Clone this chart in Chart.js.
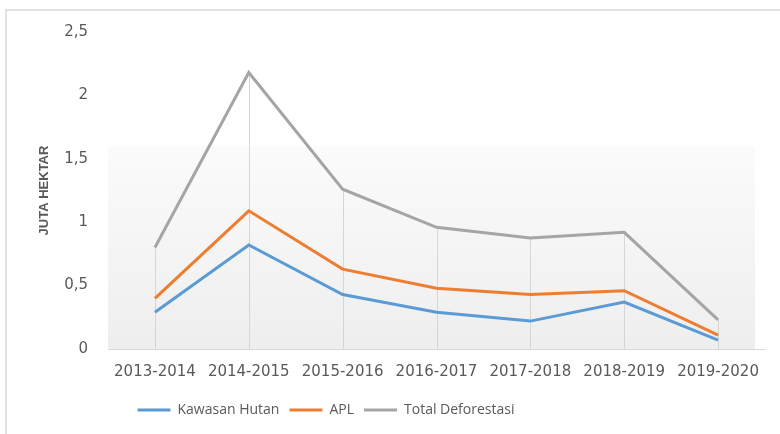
<!DOCTYPE html>
<html>
<head>
<meta charset="utf-8">
<script src="https://cdn.jsdelivr.net/npm/chart.js@4/dist/chart.umd.min.js"></script>
<style>
  html, body { margin: 0; padding: 0; background: #ffffff; }
  #wrap { position: relative; width: 780px; height: 434px; overflow: hidden; }
  #frame { position: absolute; left: 5px; top: 9px; width: 800px; height: 460px;
           border-left: 2px solid #e2e2e2; border-top: 2px solid #e2e2e2; box-sizing: border-box; }
  canvas { position: absolute; left: 0; top: 0; }
</style>
</head>
<body>
<div id="wrap">
  <div id="frame"></div>
  <canvas id="c" width="780" height="434"></canvas>
</div>
<script>
const categories = ["2013-2014", "2014-2015", "2015-2016", "2016-2017", "2017-2018", "2018-2019", "2019-2020"];
const kawasanHutan = [0.29, 0.82, 0.43, 0.29, 0.22, 0.37, 0.07];
const apl = [0.40, 1.09, 0.63, 0.48, 0.43, 0.46, 0.11];
const totalDeforestasi = [0.80, 2.18, 1.26, 0.96, 0.875, 0.92, 0.23];
const seriesNames = ["Kawasan Hutan", "APL", "Total Deforestasi"];
const yAxisTitle = "JUTA HEKTAR";

const textColor = "#595959";

const plotDecor = {
  id: "plotDecor",
  beforeDatasetsDraw(chart) {
    const { ctx, chartArea, scales } = chart;
    const top = scales.y.getPixelForValue(1.6);
    const bottom = chartArea.bottom;
    ctx.save();
    const g = ctx.createLinearGradient(0, top, 0, bottom);
    g.addColorStop(0, "#fbfbfb");
    g.addColorStop(1, "#eeeeee");
    ctx.fillStyle = g;
    ctx.fillRect(chartArea.left, top, chartArea.right - chartArea.left - 10, bottom - top);
    // drop lines from the highest series down to the axis
    const meta = chart.getDatasetMeta(2);
    ctx.strokeStyle = "#d6d6d6";
    ctx.lineWidth = 1;
    meta.data.forEach(pt => {
      ctx.beginPath();
      ctx.moveTo(Math.round(pt.x) + 0.5, pt.y);
      ctx.lineTo(Math.round(pt.x) + 0.5, bottom);
      ctx.stroke();
    });
    ctx.restore();
  },
  afterLayout(chart) {
    const L = chart.legend;
    if (!L) return;
    const w = L.right - L.left;
    const c = 326;
    L.left = c - w / 2;
    L.right = c + w / 2;
  }
};

new Chart(document.getElementById("c"), {
  type: "line",
  data: {
    labels: categories,
    datasets: [
      { label: seriesNames[0], data: kawasanHutan, borderColor: "#5b9bd5", backgroundColor: "#5b9bd5", borderWidth: 3, pointRadius: 0, tension: 0 },
      { label: seriesNames[1], data: apl, borderColor: "#ed7d31", backgroundColor: "#ed7d31", borderWidth: 3, pointRadius: 0, tension: 0 },
      { label: seriesNames[2], data: totalDeforestasi, borderColor: "#a5a5a5", backgroundColor: "#a5a5a5", borderWidth: 3, pointRadius: 0, tension: 0 }
    ]
  },
  options: {
    responsive: false,
    animation: false,
    maintainAspectRatio: false,
    layout: { padding: { left: 37, top: 32, right: 15, bottom: 7 } },
    plugins: {
      legend: {
        position: "bottom",
        labels: {
          font: { family: "'Open Sans'", size: 14 },
          color: textColor,
          usePointStyle: true,
          pointStyle: "line",
          pointStyleWidth: 33,
          padding: 10
        }
      },
      tooltip: { enabled: false }
    },
    scales: {
      x: {
        offset: true,
        grid: { display: false, offset: false, drawTicks: false },
        border: { display: true, color: "#d9d9d9", width: 1 },
        ticks: { font: { family: "'DejaVu Sans'", size: 15 }, color: textColor, padding: 14, maxRotation: 0, autoSkip: false },
        afterFit(s) { s.height = 44; }
      },
      y: {
        min: 0, max: 2.5,
        grid: { display: false, drawTicks: false },
        border: { display: false },
        ticks: {
          stepSize: 0.5,
          padding: 20,
          font: { family: "'DejaVu Sans'", size: 15 },
          color: textColor,
          callback: v => String(v).replace(".", ",")
        },
        title: {
          display: true,
          text: yAxisTitle,
          font: { family: "'Liberation Sans'", size: 13, weight: "bold" },
          color: textColor,
          padding: 0
        },
        afterFit(s) { s.width = 71; }
      }
    }
  },
  plugins: [plotDecor]
});
</script>
</body>
</html>
